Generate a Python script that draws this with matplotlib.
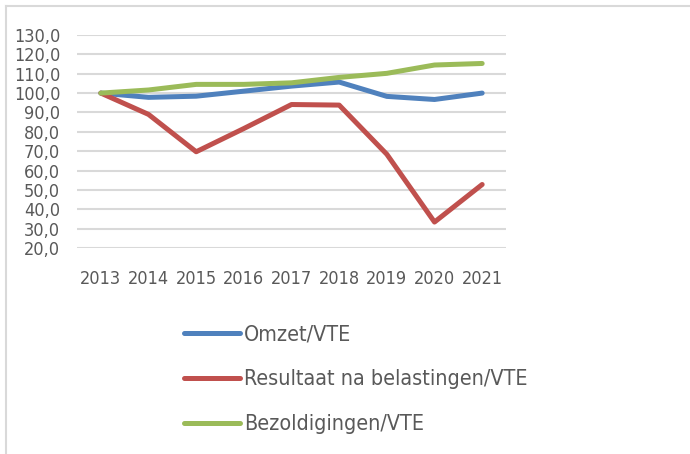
import matplotlib
matplotlib.use("Agg")
import matplotlib.pyplot as plt
from matplotlib.lines import Line2D
from matplotlib import font_manager

years = ["2013", "2014", "2015", "2016", "2017", "2018", "2019", "2020", "2021"]
omzet = [100.0, 97.8, 98.4, 101.0, 103.6, 105.7, 98.3, 96.7, 100.0]
resultaat = [100.0, 89.0, 69.7, 81.7, 94.1, 93.8, 68.4, 33.4, 52.8]
bezoldiging = [100.0, 101.6, 104.5, 104.5, 105.3, 108.1, 110.2, 114.5, 115.3]
series_names = ["Omzet/VTE", "Resultaat na belastingen/VTE", "Bezoldigingen/VTE"]
yticks = list(range(20, 131, 10))

fl = font_manager.fontManager.ttflist
names = {f.name for f in fl}
stretch = "normal"
if "Liberation Sans Narrow" in names:
    fam, tsize, lsize = "Liberation Sans Narrow", 15, 16
elif any(f.name == "DejaVu Sans" and f.stretch in ("condensed", 600) for f in fl):
    fam, tsize, lsize, stretch = "DejaVu Sans", 13, 15.4, "condensed"
else:
    fam, tsize, lsize = "Lato", 12.5, 14.5
plt.rcParams['font.family'] = [fam, "DejaVu Sans"]
plt.rcParams['font.stretch'] = stretch

W, H = 690, 454
fig = plt.figure(figsize=(W / 100, H / 100), dpi=100)
ax = fig.add_axes([77 / W, 1 - 248 / H, (506 - 77) / W, (248 - 35) / H])

colors = ["#4F81BD", "#C0504D", "#9BBB59"]
x = list(range(len(years)))
for vals, c, name in zip([omzet, resultaat, bezoldiging], colors, series_names):
    ax.plot(x, vals, color=c, lw=3.6, solid_capstyle="round", solid_joinstyle="round", label=name, zorder=3)

ax.set_xlim(-0.5, len(years) - 0.5)
ax.set_ylim(20, 130)
ax.set_yticks(yticks)
ax.set_yticklabels([f"{v},0" for v in yticks])
ax.set_xticks(x)
ax.set_xticklabels(years)
ax.grid(axis="y", color="#d9d9d9", lw=1.5, zorder=0)
for s in ax.spines.values():
    s.set_visible(False)
ax.tick_params(length=0, labelsize=tsize, colors="#595959")
ax.tick_params(axis="y", pad=12)
ax.tick_params(axis="x", pad=16)

handles = [Line2D([0], [0], color=c, lw=3.6, solid_capstyle="round") for c in colors]
leg = fig.legend(handles, series_names, loc="upper left", bbox_to_anchor=(165 / W, 1 - 305 / H),
                 frameon=False, fontsize=lsize, labelcolor="#595959", handlelength=2.6,
                 handletextpad=0.18, labelspacing=1.17)

# outer border (top and left)
fig.add_artist(Line2D([6 / W, 1], [1 - 6 / H, 1 - 6 / H], color="#d9d9d9", lw=1.5, transform=fig.transFigure))
fig.add_artist(Line2D([6 / W, 6 / W], [0, 1 - 6 / H], color="#d9d9d9", lw=1.5, transform=fig.transFigure))

fig.savefig("out.png", dpi=100)
